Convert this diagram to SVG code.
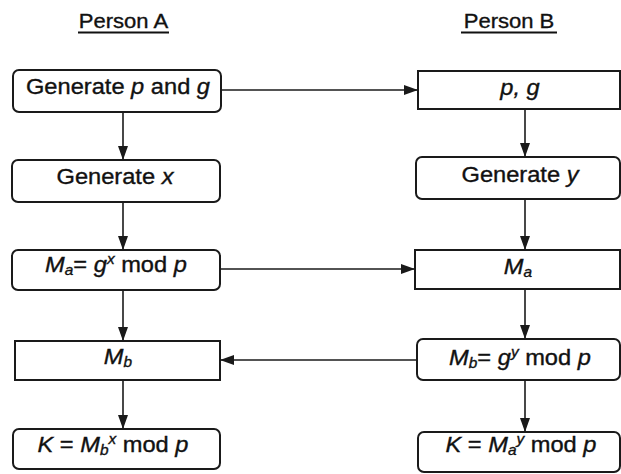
<svg xmlns="http://www.w3.org/2000/svg" width="621" height="474" viewBox="0 0 621 474">
<defs>
<style>
.box{fill:#fff;stroke:#1a1a1a;stroke-width:2}
.conn{stroke:#1a1a1a;stroke-width:1.6;fill:none}
.hd{font-family:"Liberation Sans",Arial,sans-serif;font-size:21px;fill:#111;stroke:#111;stroke-width:0.35}
.t{font-family:"Liberation Sans",Arial,sans-serif;font-size:21.5px;fill:#111;stroke:#111;stroke-width:0.35}
.i{font-style:italic}
.s{font-size:14px}
.ul{stroke:#111;stroke-width:2}
</style>
<marker id="ah" viewBox="0 0 14 10" refX="14" refY="5" markerWidth="14" markerHeight="10" markerUnits="userSpaceOnUse" orient="auto">
<path d="M0,0 L14,5 L0,10 z" fill="#1a1a1a"/>
</marker>
</defs>
<rect width="621" height="474" fill="#fff"/>

<g id="headers">
<text class="hd" text-anchor="middle" transform="translate(123.5,28) scale(1.05,1)">Person A</text>
<line class="ul" x1="78" y1="32.5" x2="169" y2="32.5"/>
<text class="hd" text-anchor="middle" transform="translate(509,28) scale(1.05,1)">Person B</text>
<line class="ul" x1="461" y1="32.5" x2="557" y2="32.5"/>
</g>

<g id="connectors">
<line class="conn" x1="221" y1="90" x2="418" y2="90" marker-end="url(#ah)"/>
<line class="conn" x1="123" y1="112" x2="123" y2="160" marker-end="url(#ah)"/>
<line class="conn" x1="123" y1="202" x2="123" y2="250" marker-end="url(#ah)"/>
<line class="conn" x1="220" y1="269" x2="415" y2="269" marker-end="url(#ah)"/>
<line class="conn" x1="123" y1="290" x2="123" y2="341" marker-end="url(#ah)"/>
<line class="conn" x1="417" y1="360" x2="220" y2="360" marker-end="url(#ah)"/>
<line class="conn" x1="123" y1="380" x2="123" y2="429" marker-end="url(#ah)"/>
<line class="conn" x1="525" y1="109" x2="525" y2="157" marker-end="url(#ah)"/>
<line class="conn" x1="525" y1="199" x2="525" y2="250" marker-end="url(#ah)"/>
<line class="conn" x1="525" y1="289" x2="525" y2="339" marker-end="url(#ah)"/>
<line class="conn" x1="525" y1="380" x2="525" y2="432" marker-end="url(#ah)"/>
</g>

<g id="a1">
<rect class="box" x="13" y="70" width="208" height="42" rx="6"/>
<text class="t" text-anchor="middle" transform="translate(118,94) scale(1.1,1)">Generate <tspan class="i">p</tspan> and <tspan class="i">g</tspan></text>
</g>
<g id="a2">
<rect class="box" x="12" y="160" width="208" height="42" rx="6"/>
<text class="t" text-anchor="middle" transform="translate(115,184) scale(1.1,1)">Generate <tspan class="i">x</tspan></text>
</g>
<g id="a3">
<rect class="box" x="12" y="250" width="208" height="40" rx="6"/>
<text class="t" text-anchor="middle" transform="translate(116,272) scale(1.1,1)"><tspan class="i">M</tspan><tspan class="i s" dy="3">a</tspan><tspan dy="-3">= </tspan><tspan class="i">g</tspan><tspan class="i s" dy="-8">x</tspan><tspan dy="8"> mod </tspan><tspan class="i">p</tspan></text>
</g>
<g id="a4">
<rect class="box" x="15" y="341" width="205" height="39"/>
<text class="t" text-anchor="middle" transform="translate(118,364) scale(1.1,1)"><tspan class="i">M</tspan><tspan class="i s" dy="3">b</tspan></text>
</g>
<g id="a5">
<rect class="box" x="13" y="429" width="207" height="40" rx="6"/>
<text class="t" text-anchor="middle" transform="translate(113,452) scale(1.1,1)"><tspan class="i">K</tspan> = <tspan class="i">M</tspan><tspan class="i s" dy="3">b</tspan><tspan class="i s" dy="-11">x</tspan><tspan dy="8"> mod </tspan><tspan class="i">p</tspan></text>
</g>

<g id="b1">
<rect class="box" x="418" y="71" width="202" height="38"/>
<text class="t i" text-anchor="middle" transform="translate(520,95) scale(1.1,1)">p, g</text>
</g>
<g id="b2">
<rect class="box" x="416" y="157" width="204" height="42" rx="6"/>
<text class="t" text-anchor="middle" transform="translate(520,182) scale(1.1,1)">Generate <tspan class="i">y</tspan></text>
</g>
<g id="b3">
<rect class="box" x="415" y="250" width="205" height="39"/>
<text class="t" text-anchor="middle" transform="translate(518,274) scale(1.1,1)"><tspan class="i">M</tspan><tspan class="i s" dy="3">a</tspan></text>
</g>
<g id="b4">
<rect class="box" x="417" y="339" width="203" height="41" rx="6"/>
<text class="t" text-anchor="middle" transform="translate(520,365) scale(1.1,1)"><tspan class="i">M</tspan><tspan class="i s" dy="3">b</tspan><tspan dy="-3">= </tspan><tspan class="i">g</tspan><tspan class="i s" dy="-8">y</tspan><tspan dy="8"> mod </tspan><tspan class="i">p</tspan></text>
</g>
<g id="b5">
<rect class="box" x="418" y="432" width="202" height="40" rx="6"/>
<text class="t" text-anchor="middle" transform="translate(521,452) scale(1.1,1)"><tspan class="i">K</tspan> = <tspan class="i">M</tspan><tspan class="i s" dy="3">a</tspan><tspan class="i s" dy="-11">y</tspan><tspan dy="8"> mod </tspan><tspan class="i">p</tspan></text>
</g>
</svg>
